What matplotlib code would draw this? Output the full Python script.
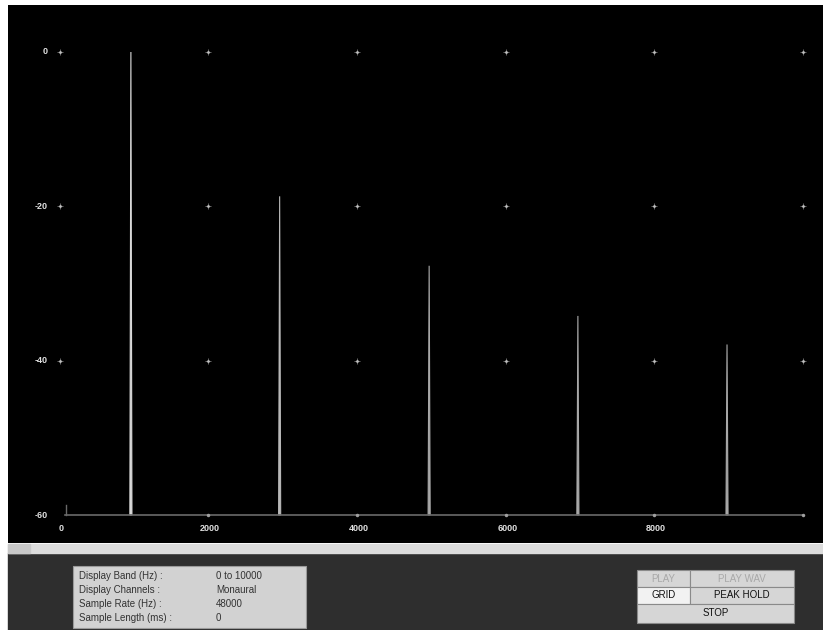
import matplotlib
matplotlib.use("Agg")
import matplotlib.pyplot as plt
from matplotlib.patches import Rectangle

# spectrum peaks (Hz, dB)
peak_freqs = [960, 2960, 4970, 6970, 8975]
peak_levels = [0.0, -18.7, -27.7, -34.2, -37.9]
peak_colors = ["#d8d8d8", "#b8b8b8", "#a8a8a8", "#a8a8a8", "#a8a8a8"]

x_ticks = [0, 2000, 4000, 6000, 8000]
x_grid = [0, 2000, 4000, 6000, 8000, 10000]
y_ticks = [0, -20, -40, -60]
y_grid = [0, -20, -40]

info_labels = ["Display Band (Hz) :", "Display Channels :", "Sample Rate (Hz) :", "Sample Length (ms) :"]
info_values = ["0 to 10000", "Monaural", "48000", "0"]

W, H = 823, 630
fig = plt.figure(figsize=(W / 100, H / 100), dpi=100)
fig.patch.set_facecolor("white")

# background overlay in pixel coords
bg = fig.add_axes([0, 0, 1, 1])
bg.set_xlim(0, W)
bg.set_ylim(H, 0)
bg.axis("off")
bg.add_patch(Rectangle((8, 553), W - 8, H - 553, color="#2e2e2e"))
bg.add_patch(Rectangle((8, 544), W - 8, 9, color="#dcdcdc"))
bg.add_patch(Rectangle((8, 544), 22, 9, color="#c8c8c8"))

# info box
bg.add_patch(Rectangle((73, 566), 233, 62, facecolor="#d2d2d2", edgecolor="#9a9a9a", lw=0.8))
for i, (lab, val) in enumerate(zip(info_labels, info_values)):
    yy = 576 + i * 14
    bg.text(79, yy, lab, fontsize=7, color="#333333", va="center", family="Liberation Sans")
    bg.text(216, yy, val, fontsize=7, color="#333333", va="center", family="Liberation Sans")

# buttons
buttons = [
    (637, 570, 53, 17, "PLAY", "#d6d6d6", "#a8a8a8"),
    (690, 570, 104, 17, "PLAY WAV", "#d6d6d6", "#a8a8a8"),
    (637, 587, 53, 17, "GRID", "#f2f2f2", "#111111"),
    (690, 587, 104, 17, "PEAK HOLD", "#d6d6d6", "#111111"),
    (637, 604, 157, 19, "STOP", "#d6d6d6", "#111111"),
]
for bx, by, bw, bh, txt, fc, tc in buttons:
    bg.add_patch(Rectangle((bx, by), bw, bh, facecolor=fc, edgecolor="#8a8a8a", lw=0.8))
    bg.text(bx + bw / 2, by + bh / 2, txt, fontsize=7, color=tc, ha="center", va="center",
            family="Liberation Sans")

# main spectrum display
px_per_hz = 74.375 / 1000
x0_px = 59.5
px_per_db = 7.717
y0_px = 52
left, right, top, bottom = 8, 823, 5, 543
ax = fig.add_axes([left / W, 1 - bottom / H, (right - left) / W, (bottom - top) / H])
ax.set_facecolor("black")
ax.set_xlim((left - x0_px) / px_per_hz, (right - x0_px) / px_per_hz)
ax.set_ylim(-(bottom - y0_px) / px_per_db, -(top - y0_px) / px_per_db)
ax.set_xticks([])
ax.set_yticks([])
for s in ax.spines.values():
    s.set_visible(False)

# baseline and short y stub
ax.plot([70, 10000], [-60, -60], color="#6a6a6a", lw=1.2)
ax.plot([87, 87], [-58.7, -60], color="#6a6a6a", lw=1.0)

# grid markers
for gx in x_grid:
    for gy in y_grid:
        ax.plot(gx, gy, marker="+", ms=5, mew=0.7, color="#6a6a6a")
        ax.plot(gx, gy, marker="o", ms=2, color="#c0c0c0", mew=0)
    if gx > 0:
        ax.plot(gx, -60, marker="o", ms=2.5, color="#a0a0a0", mew=0)

# peaks
for f, lvl, c in zip(peak_freqs, peak_levels, peak_colors):
    ax.fill([f - 14, f, f + 14], [-60, lvl, -60], color=c, lw=0.8)

# tick labels
for yv in y_ticks:
    ax.text(-160, yv, str(yv), fontsize=6.5, color="#e0e0e0", ha="right", va="center",
            family="Liberation Sans", weight="bold")
for xv in x_ticks:
    ax.text(xv + 20, -61.8, str(xv), fontsize=6.5, color="#e0e0e0", ha="center", va="center",
            family="Liberation Sans", weight="bold")

fig.savefig("out.png", dpi=100, facecolor=fig.get_facecolor())
